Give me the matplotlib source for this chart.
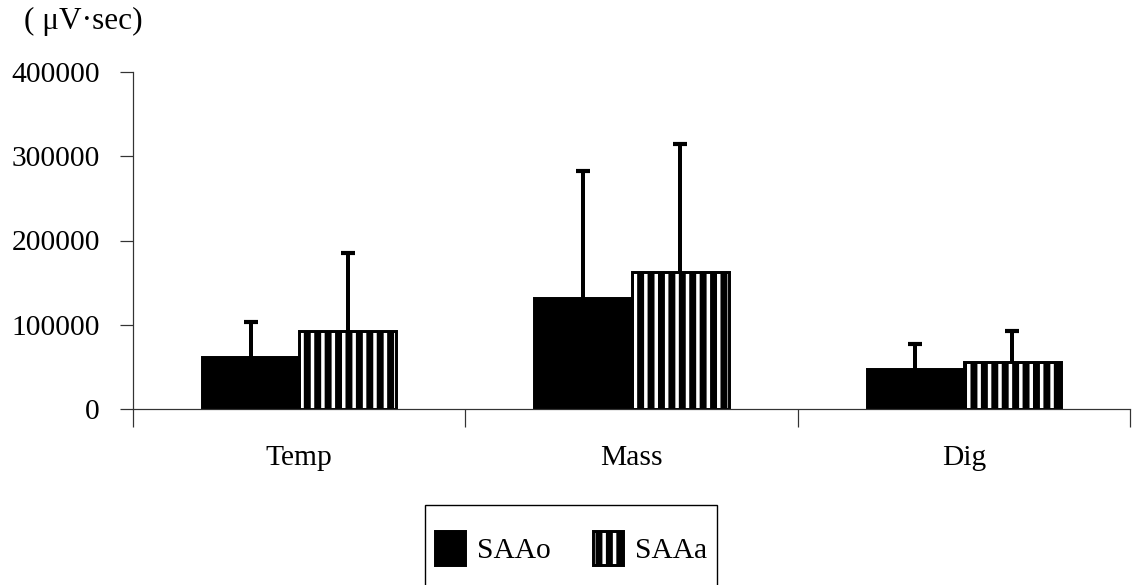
import numpy as np
import matplotlib
matplotlib.use("Agg")
import matplotlib.pyplot as plt
from matplotlib import rcParams
from matplotlib.patches import Patch

rcParams.update(
    {
        "font.family": ["Liberation Serif", "DejaVu Serif"],
        "font.size": 17,
        "hatch.linewidth": 4.0,
    }
)

# data
categories = ["Temp", "Mass", "Dig"]
saao_mean = [61700, 131800, 47500]
saao_err = [41600, 150700, 29700]
saaa_mean = [92600, 162600, 55800]
saaa_err = [92600, 151900, 36800]
series_names = ["SAAo", "SAAa"]
yticks = [0, 100000, 200000, 300000, 400000]

DPI = 125
fig = plt.figure(figsize=(1134 / DPI, 585 / DPI), dpi=DPI)
ax = fig.add_axes([133 / 1134, 1 - 409 / 585, 997 / 1134, 337 / 585])

_pos = np.arange(len(categories)) + 0.5
_bar_width = 0.292
_off = _bar_width / 2

b1 = ax.bar(_pos - _off, saao_mean, _bar_width, color="black", ec="black", lw=1.7, zorder=2)
b2 = ax.bar(_pos + _off, saaa_mean, _bar_width, color="white", ec="black", lw=1.7,
            hatch="||", zorder=2)

err_style = dict(fmt="none", ecolor="black", elinewidth=2.3, capsize=4, capthick=2.4, zorder=3)
for x, m, e in [(_pos - _off, saao_mean, saao_err), (_pos + _off, saaa_mean, saaa_err)]:
    _, caps, _ = ax.errorbar(x, m, yerr=[np.zeros(len(e)), e], **err_style)
    caps[0].set_visible(False)  # only the upper cap

ax.set_xlim(0, len(categories))
ax.set_ylim(0, 400000)
ax.set_yticks(yticks, [str(v) for v in yticks])

# category boundaries as major ticks, names as minor ticks
ax.set_xticks(np.arange(len(categories) + 1))
ax.set_xticklabels([])
ax.set_xticks(_pos, categories, minor=True)
ax.tick_params(axis="x", which="major", direction="out", length=10.4, width=0.7, color="#333333")
ax.tick_params(axis="x", which="minor", length=0, pad=21)
ax.tick_params(axis="y", direction="out", length=7.5, width=0.7, color="#333333", pad=11.5)

for side in ["top", "right"]:
    ax.spines[side].set_visible(False)
for side in ["left", "bottom"]:
    ax.spines[side].set_linewidth(0.7)
    ax.spines[side].set_color("#333333")

fig.text(24 / 1134, 1 - 21 / 585, "( \u03bcV\u00b7sec)", ha="left", va="center", fontsize=18)

# blank second row keeps the frame running past the bottom edge, as in the scan
blank = Patch(visible=False)
leg = fig.legend(
    [b1[0], blank, b2[0], blank],
    [series_names[0], " ", series_names[1], " "],
    loc="upper left",
    bbox_to_anchor=(425 / 1134, 1 - 505 / 585),
    borderaxespad=0,
    ncol=2,
    fancybox=False,
    framealpha=1,
    edgecolor="black",
    handlelength=1.0,
    handleheight=1.4,
    handletextpad=0.4,
    columnspacing=1.45,
    borderpad=0.35,
    labelspacing=0.4,
    title=" ",
    title_fontsize=2,
)
leg.get_frame().set_linewidth(0.8)

fig.savefig("out.png", dpi=DPI)
